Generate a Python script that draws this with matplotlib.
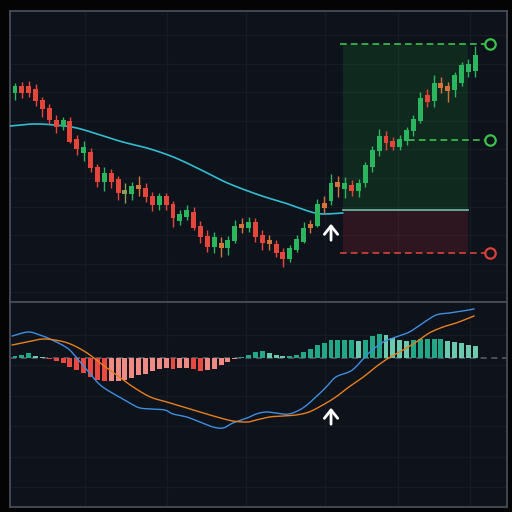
import numpy as np
import matplotlib
matplotlib.use("Agg")
import matplotlib.pyplot as plt
from matplotlib.patches import Rectangle

# ---------------- data ----------------
opens  = [207, 214, 214, 211, 200, 192, 180, 174, 179, 161, 147, 148, 133, 118, 127, 121, 106, 106, 115, 112,
          104, 95, 104, 96, 79, 83, 88, 74, 64, 53, 57, 52, 59, 76, 72, 78, 65, 60, 56, 48,
          41, 50, 58, 76, 74, 97, 99, 118, 111, 115, 109, 117, 133, 149, 164, 159, 153, 159, 169, 179,
          205, 199, 217, 214, 210, 217, 228, 229]
closes = [214, 207, 207, 199, 191, 180, 173, 180, 158, 151, 153, 132, 118, 127, 118, 107, 110, 114, 111, 103,
          95, 104, 95, 82, 86, 90, 72, 63, 53, 63, 52, 60, 74, 72, 78, 63, 57, 56, 47, 41,
          52, 61, 72, 72, 96, 92, 117, 113, 117, 109, 117, 135, 150, 164, 157, 153, 161, 170, 181, 202,
          198, 217, 212, 209, 225, 235, 236, 245]
highs  = [217, 218, 219, 216, 203, 196, 185, 183, 183, 165, 159, 152, 136, 133, 131, 124, 117, 118, 124, 117,
          108, 107, 107, 99, 90, 95, 93, 79, 70, 68, 63, 64, 80, 82, 83, 82, 70, 65, 60, 52,
          55, 65, 78, 80, 101, 104, 126, 124, 123, 120, 121, 138, 154, 171, 169, 163, 165, 173, 185, 208,
          211, 225, 223, 218, 228, 238, 241, 254]
lows   = [200, 202, 203, 194, 183, 176, 167, 170, 157, 145, 139, 128, 113, 109, 112, 100, 97, 100, 104, 98,
          89, 90, 90, 73, 75, 80, 70, 57, 48, 47, 43, 45, 57, 67, 68, 58, 50, 50, 43, 33,
          38, 48, 57, 67, 73, 87, 95, 103, 102, 104, 103, 113, 128, 144, 150, 150, 150, 155, 164, 177,
          193, 193, 207, 198, 203, 214, 223, 223]

ema_x = [-0.7, 2.6, 5.8, 9.0, 12.4, 15.7, 19.2, 22.3, 24.7, 27.7, 30.6, 33.5, 36.4, 39.3, 42.2, 43.7, 45.1, 47.7]
ema_y = [174, 176, 175, 172, 165, 158, 152, 145, 138, 128, 118, 110, 103, 97, 90, 87, 86, 87]

take_profit_2 = 256
take_profit_1 = 160
entry_price = 90
stop_loss = 47
signal_bar = 46
zone_start, zone_end = 47.7, 65.9
tp1_start = 57.2
line_start = 47.3
marker_x = 69.1

hist = [2, 3, 5, 2, 1, -1, -3, -5, -9, -12, -15, -19, -22, -23, -23, -23, -22, -20, -17, -16,
        -13, -11, -10, -11, -10, -10, -11, -13, -12, -11, -7, -4, -1, 1, 3, 6, 7, 5, 3, 2,
        2, 3, 6, 9, 13, 15, 18, 18, 18, 18, 17, 18, 22, 24, 23, 20, 18, 17, 18, 19,
        19, 19, 19, 17, 16, 15, 13, 12]

macd_x = [-0.4, 1.9, 3.6, 5.1, 7.6, 9.0, 10.5, 12.4, 14.9, 17.2, 18.2, 19.7, 21.8, 23.0, 25.0, 26.9, 28.8, 30.3,
          31.7, 33.8, 35.1, 36.5, 38.0, 39.9, 41.9, 43.8, 45.3, 46.7, 48.6, 49.6, 51.5, 53.6, 55.5, 57.4,
          59.4, 61.3, 63.2, 65.2, 66.8]
macd_y = [22, 26, 23, 19, 10, 0, -12, -27, -38, -47, -50, -51, -52, -56, -59, -64, -69, -70,
          -65, -60, -56, -54, -55, -56, -50, -39, -29, -19, -14, -9, 5, 16, 21, 26,
          35, 43, 45, 47, 49]
signal_x = [-0.4, 1.7, 4.1, 6.6, 8.4, 10.5, 12.4, 14.8, 17.2, 19.7, 22.1, 24.5, 26.9, 29.4, 31.7, 33.8, 35.1,
            37.0, 39.0, 40.9, 42.8, 44.8, 46.7, 48.6, 50.7, 52.5, 54.4, 56.5, 58.4, 60.3, 62.3, 64.2, 66.1, 66.8]
signal_y = [13, 16, 19, 17, 13, 5, -5, -17, -29, -39, -44, -49, -54, -59, -63, -64, -62,
            -59, -58, -57, -54, -47, -39, -29, -19, -9, 0, 8, 16, 25, 31, 35, 40, 42]

# ---------------- style ----------------
FIG_BG = "#040404"
PANEL_BG = "#0d121b"
GRID = "#161c27"
BORDER = "#474c57"
GREEN = "#2bb55e"
RED = "#e4463b"
GREEN_MUTED = "#8a9e5c"
RED_MUTED = "#d2743c"


def smooth(xs, ys, n=10):
    P = np.column_stack([np.asarray(xs, float), np.asarray(ys, float)])
    P = np.vstack([P[0], P, P[-1]])
    out = []
    t = np.linspace(0, 1, n, endpoint=False)[:, None]
    for k in range(1, len(P) - 2):
        p0, p1, p2, p3 = P[k - 1], P[k], P[k + 1], P[k + 2]
        pts = 0.5 * ((2 * p1) + (-p0 + p2) * t + (2 * p0 - 5 * p1 + 4 * p2 - p3) * t ** 2
                     + (-p0 + 3 * p1 - 3 * p2 + p3) * t ** 3)
        out.append(pts)
    out.append(P[-2][None, :])
    out = np.vstack(out)
    return out[:, 0], out[:, 1]


def px_to_idx(x):
    return (x - 15) / 6.87


fig = plt.figure(figsize=(5.12, 5.12), dpi=100, facecolor=FIG_BG)
L, R = 10 / 512, 507 / 512
top, mid, bot = 1 - 10.5 / 512, 1 - 302 / 512, 1 - 506.5 / 512
ax1 = fig.add_axes([L, mid, R - L, top - mid])
ax2 = fig.add_axes([L, bot, R - L, mid - bot])

xlim = (px_to_idx(10), px_to_idx(507))
for ax in (ax1, ax2):
    ax.set_facecolor(PANEL_BG)
    ax.set_xlim(*xlim)
    ax.set_xticks([])
    ax.set_yticks([])
    for s in ax.spines.values():
        s.set_color(BORDER)
        s.set_linewidth(1.3)
    for gx in [85, 167, 246, 325, 398, 470]:
        ax.axvline(px_to_idx(gx), color=GRID, lw=0.9, zorder=0)

ax1.set_ylim(300 - 302, 300 - 10.5)
ax2.set_ylim(358 - 506.5, 358 - 302)
for gy in np.arange(35, 300, 28.6):
    ax1.axhline(300 - gy, color=GRID, lw=0.9, zorder=0)
for gy in [334.5, 365, 395.5, 426, 456.5, 487]:
    ax2.axhline(358 - gy, color=GRID, lw=0.9, zorder=0)

# ---- trade zones ----
ax1.add_patch(Rectangle((zone_start, entry_price), zone_end - zone_start, take_profit_2 - entry_price,
                        facecolor="#1e8a2e", alpha=0.2, edgecolor="none", zorder=1))
ax1.add_patch(Rectangle((zone_start, stop_loss), zone_end - zone_start, entry_price - stop_loss,
                        facecolor="#b02a30", alpha=0.2, edgecolor="none", zorder=1))
ax1.plot([zone_start, zone_end], [entry_price, entry_price], color="#6fae9c", lw=1.3, zorder=2)

ax1.plot([line_start, marker_x], [take_profit_2] * 2, color="#3cc24a", lw=1.2, ls=(0, (4, 2.5)), zorder=2)
ax1.plot([tp1_start, marker_x], [take_profit_1] * 2, color="#3cc24a", lw=1.2, ls=(0, (4, 2.5)), zorder=2)
ax1.plot([line_start, marker_x], [stop_loss] * 2, color="#d9413a", lw=1.2, ls=(0, (4, 2.5)), zorder=2)
for yv, c in [(take_profit_2, "#3cc24a"), (take_profit_1, "#3cc24a"), (stop_loss, "#d9413a")]:
    ax1.plot([marker_x], [yv], marker="o", ms=7.5, mfc=PANEL_BG, mec=c, mew=1.6, zorder=4)

# ---- EMA ----
ex, ey = smooth(ema_x, ema_y)
ax1.plot(ex, ey, color="#33bccf", lw=1.2, zorder=3)

# ---- candles ----
w = 0.72
for i, (o, h, l, c) in enumerate(zip(opens, highs, lows, closes)):
    up = c >= o
    body = abs(c - o)
    if up:
        col = GREEN_MUTED if body <= 5 else GREEN
    else:
        col = RED_MUTED if body <= 5 else RED
    ax1.plot([i, i], [l, h], color=col, lw=1.0, zorder=4, solid_capstyle="butt")
    ax1.add_patch(Rectangle((i - w / 2, min(o, c)), w, max(body, 1), facecolor=col, edgecolor="none", zorder=5))

# ---- arrows ----
arrow_style = dict(arrowstyle="->,head_width=0.4,head_length=0.5", color="white", lw=2.0, mutation_scale=12)
ax1.annotate("", xy=(signal_bar, 79), xytext=(signal_bar, 57), arrowprops=arrow_style, zorder=6)
ax2.annotate("", xy=(signal_bar, -47), xytext=(signal_bar, -69), arrowprops=arrow_style, zorder=6)

# ---- MACD ----
ax2.plot([xlim[0], xlim[1]], [0, 0], color="#5a606b", lw=1.1, ls=(0, (4, 3)), zorder=1)
hcols = []
for i, v in enumerate(hist):
    prev = hist[i - 1] if i > 0 else v
    if v >= 0:
        hcols.append("#22a887" if v >= prev else "#6cc9ad")
    else:
        hcols.append("#e84a42" if v < prev else "#f08a85")
ax2.bar(np.arange(len(hist)), hist, width=0.72, color=hcols, zorder=2)

mx, my = smooth(macd_x, macd_y)
sx, sy = smooth(signal_x, signal_y)
ax2.plot(mx, my, color="#3f8ee0", lw=1.0, zorder=3)
ax2.plot(sx, sy, color="#e8801f", lw=1.0, zorder=3)

fig.savefig("out.png", dpi=100, facecolor=FIG_BG)
